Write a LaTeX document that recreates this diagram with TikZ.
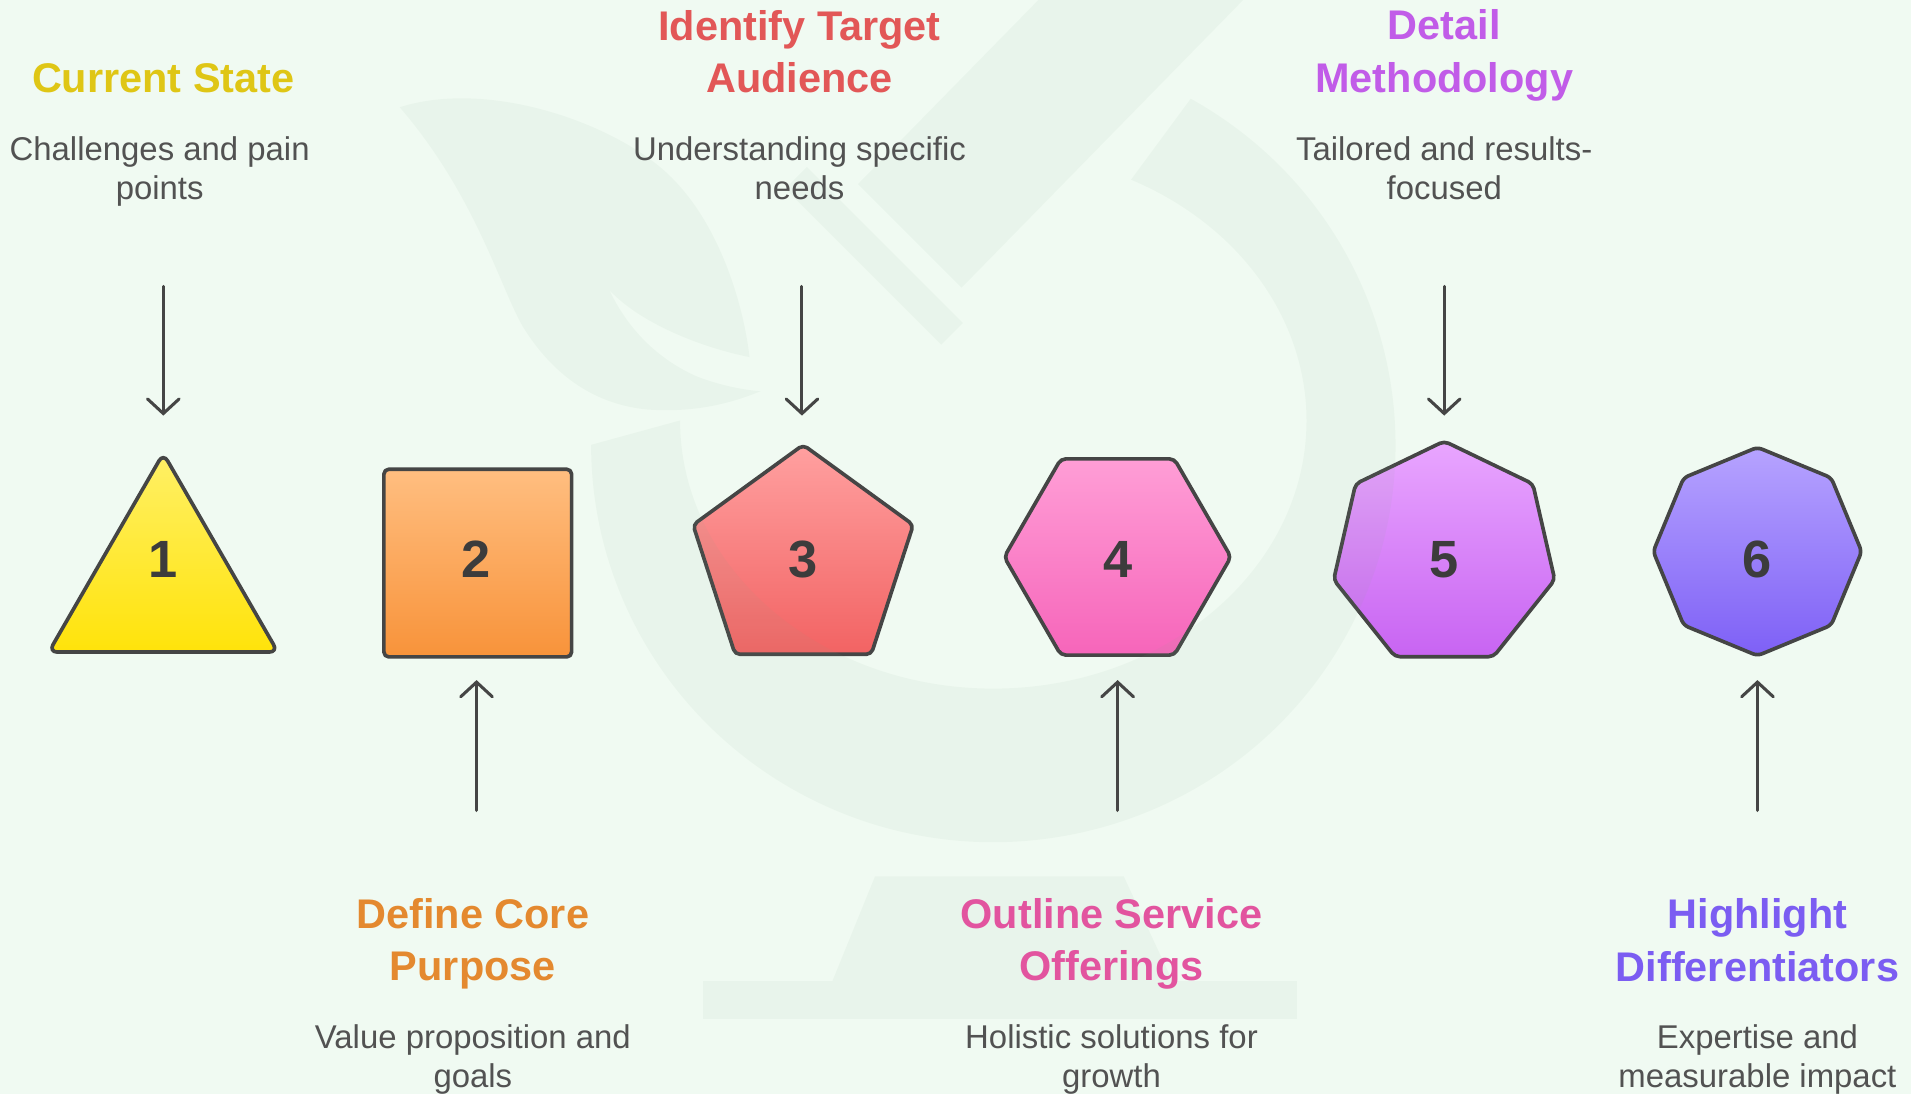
\documentclass[tikz,border=0pt]{standalone}
\usepackage{fontspec}
\setmainfont{Liberation Sans}
\usetikzlibrary{arrows.meta}
\definecolor{bg}{HTML}{F0FAF2}
\definecolor{wm}{HTML}{7FA88A}
\definecolor{ink}{HTML}{454545}
\definecolor{numc}{HTML}{3C3C3C}
\definecolor{descc}{HTML}{525252}
\definecolor{tA}{HTML}{DFC615}
\definecolor{tB}{HTML}{E4892F}
\definecolor{tC}{HTML}{E25757}
\definecolor{tD}{HTML}{E2549F}
\definecolor{tE}{HTML}{C15CE8}
\definecolor{tF}{HTML}{7B5DF2}
\definecolor{fAt}{HTML}{FFF066}\definecolor{fAb}{HTML}{FFE30A}
\definecolor{fBt}{HTML}{FFBE80}\definecolor{fBb}{HTML}{F8933A}
\definecolor{fCt}{HTML}{FFA0A0}\definecolor{fCb}{HTML}{F26363}
\definecolor{fDt}{HTML}{FF9ED6}\definecolor{fDb}{HTML}{F665BA}
\definecolor{fEt}{HTML}{E9A6FF}\definecolor{fEb}{HTML}{C864F2}
\definecolor{fFt}{HTML}{B6A3FF}\definecolor{fFb}{HTML}{7E60F6}
\tikzset{
  shp/.style={draw=ink, line width=3pt, rounded corners=4pt, line join=round},
  numlbl/.style={text=numc, font=\fontsize{43}{46}\selectfont\bfseries, inner sep=0pt},
  ttl/.style={font=\fontsize{34}{43}\selectfont\bfseries, align=center, inner sep=0pt},
  dsc/.style={text=descc, font=\fontsize{27}{32}\selectfont, align=center, inner sep=0pt},
  arr/.style={draw=ink, line width=2.5pt, line cap=round, -{Straight Barb[length=12pt,width=26pt,line cap=round]}}
}
\begin{document}
\begin{tikzpicture}[x=1pt,y=-1pt]
\fill[bg] (0,0) rectangle (1568,898);
\useasboundingbox (0,0) rectangle (1568,898);

% shapes
\path[shp, top color=fAt, bottom color=fAb, rounded corners=7pt] (134,372) -- (228,535) -- (40,535) -- cycle;
\path[shp, top color=fBt, bottom color=fBb] (315,385) rectangle (469,539);
\path[shp, top color=fCt, bottom color=fCb] (659,365) -- (749.35,430.64) -- (714.84,536.86) -- (603.16,536.86) -- (568.65,430.64) -- cycle;
\path[shp, top color=fDt, bottom color=fDb] (870.5,376.5) -- (963.5,376.5) -- (1010,457) -- (963.5,537.5) -- (870.5,537.5) -- (824,457) -- cycle;
\path[shp, top color=fEt, bottom color=fEb] (1185,362) -- (1257.7,397) -- (1275.7,475.7) -- (1225.4,538.8) -- (1144.6,538.8) -- (1094.3,475.7) -- (1112.3,397) -- cycle;
\path[shp, top color=fFt, bottom color=fFb] (1442,367) -- (1502.5,392) -- (1527.5,452.5) -- (1502.5,513) -- (1442,538) -- (1381.5,513) -- (1356.5,452.5) -- (1381.5,392) -- cycle;

% watermark
\begin{scope}[transparency group, opacity=0.065]
  % leaf with notch
  \fill[wm] (328,88) .. controls (400,65) and (500,100) .. (545,140)
     .. controls (590,180) and (610,250) .. (615,293)
     .. controls (575,285) and (525,265) .. (500,238)
     .. controls (515,270) and (540,295) .. (572,309)
     .. controls (590,316) and (610,320) .. (624,321)
     .. controls (590,335) and (560,338) .. (531,336)
     .. controls (490,332) and (455,310) .. (429,268)
     .. controls (410,235) and (390,160) .. (328,88) -- cycle;
  % arm
  \fill[wm] (977,81) arc[start angle=-60.6, end angle=180, x radius=330, y radius=326] -- (558,345) arc[start angle=180, end angle=-63.9, x radius=257, y radius=220] -- cycle;
  % tube
  \fill[wm] (704,151) -- (789,236) -- (1020,0) -- (852,0) -- cycle;
  % objective bar
  \fill[wm] (662,137) -- (790,265) -- (772.3,282.7) -- (644.3,154.7) -- cycle;
  % base
  \fill[wm] (718,719) -- (922,719) -- (962,805) -- (683,805) -- cycle;
  \fill[wm] (577,805) rectangle (1064,836);
\end{scope}

% numbers
\node[numlbl] (s1) at (134,459) {1};
\node[numlbl] (s2) at (391,459) {2};
\node[numlbl] (s3) at (659,459) {3};
\node[numlbl] (s4) at (917,459) {4};
\node[numlbl] (s5) at (1185,459) {5};
\node[numlbl] (s6) at (1442,459) {6};

% titles
\node[ttl, text=tA] (t1) at (134,64) {Current State};
\node[ttl, text=tC] (t3) at (656,42.5) {Identify Target\\Audience};
\node[ttl, text=tE] (t5) at (1185,45.5) {Detail\\Methodology};
\node[ttl, text=tB] (t2) at (388,774.5) {Define Core\\Purpose};
\node[ttl, text=tD] (t4) at (912,774.5) {Outline Service\\Offerings};
\node[ttl, text=tF] (t6) at (1442,771.5) {Highlight\\Differentiators};

% descriptions
\node[dsc] (d1) at (131,140.5) {Challenges and pain\\points};
\node[dsc] (d3) at (656,138) {Understanding specific\\needs};
\node[dsc] (d5) at (1185,138) {Tailored and results-\\focused};
\node[dsc] (d2) at (388,869) {Value proposition and\\goals};
\node[dsc] (d4) at (912,869) {Holistic solutions for\\growth};
\node[dsc] (d6) at (1442,869) {Expertise and\\measurable impact};

% arrows
\coordinate (a1s) at (134,235); \coordinate (a1e) at (134,341);
\coordinate (a3s) at (658,235); \coordinate (a3e) at (658,341);
\coordinate (a5s) at (1185,235); \coordinate (a5e) at (1185,341);
\coordinate (a2s) at (391,665); \coordinate (a2e) at (391,558);
\coordinate (a4s) at (917,665); \coordinate (a4e) at (917,558);
\coordinate (a6s) at (1442,665); \coordinate (a6e) at (1442,558);
\draw[arr] (a1s) -- (a1e);
\draw[arr] (a3s) -- (a3e);
\draw[arr] (a5s) -- (a5e);
\draw[arr] (a2s) -- (a2e);
\draw[arr] (a4s) -- (a4e);
\draw[arr] (a6s) -- (a6e);
\end{tikzpicture}
\end{document}
